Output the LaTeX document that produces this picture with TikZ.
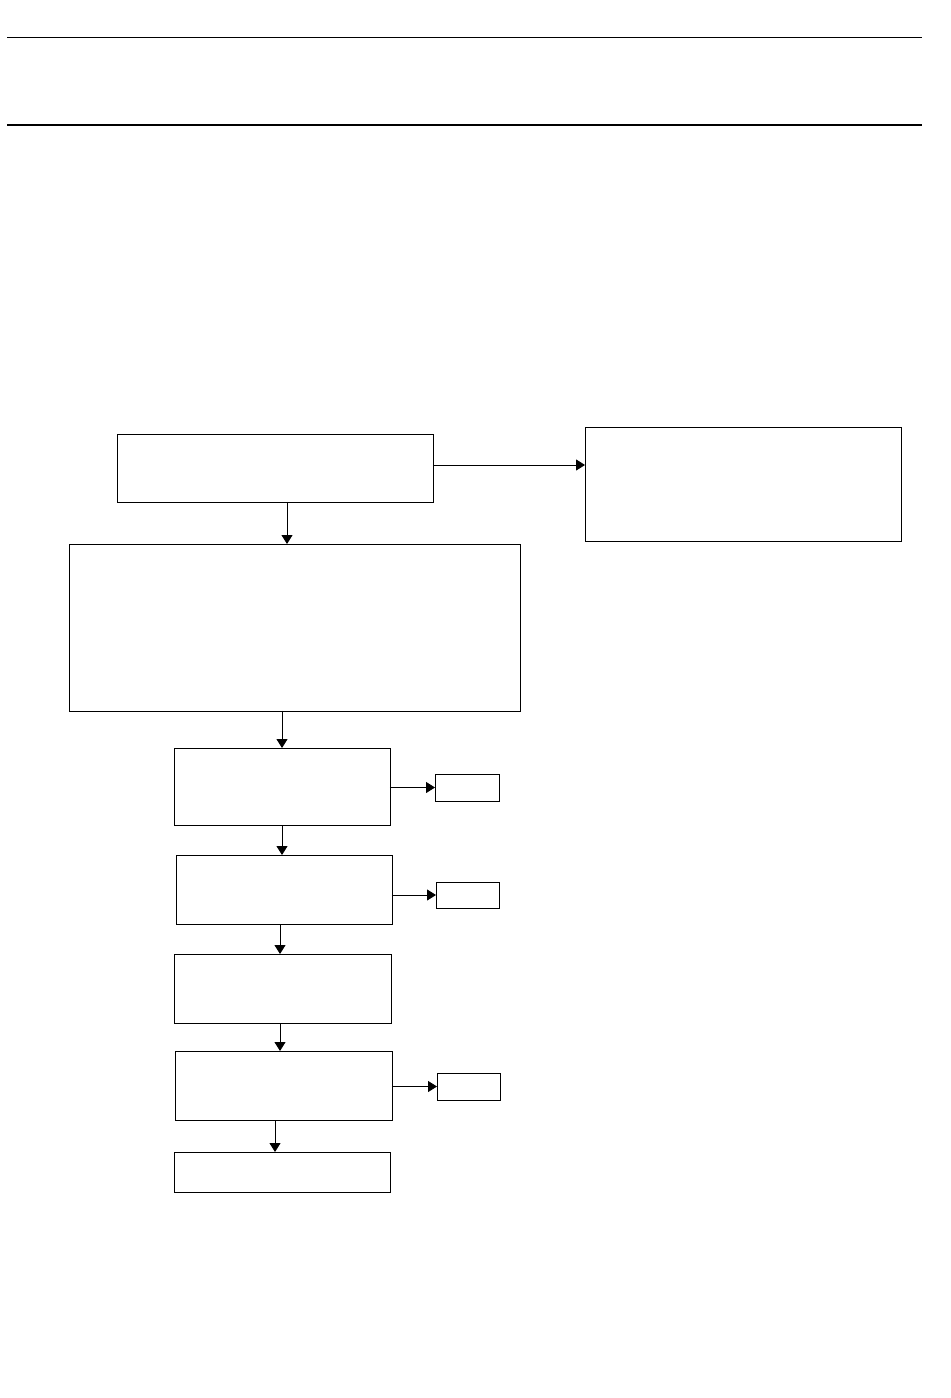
\documentclass[tikz,border=0pt]{standalone}
\usepackage{xcolor}
\usepackage{tikz}
\usetikzlibrary{arrows.meta}

\begin{document}
\begin{tikzpicture}[x=0.02cm, y=-0.02cm, line width=0.5pt,
    box/.style={draw, rectangle, inner sep=0pt, outer sep=0pt},
    arr/.style={-{Triangle[length=0.18cm, width=0.22cm]}}]
    \useasboundingbox (0,0) rectangle (950,1398);
    % righe di intestazione
    \coordinate (r1a) at (7,37);
    \coordinate (r1b) at (922,37);
    \coordinate (r2a) at (7,125);
    \coordinate (r2b) at (922,125);
    \draw (r1a) -- (r1b);
    \draw[line width=0.9pt] (r2a) -- (r2b);

    % blocco iniziale
    \node (top) at (275,468) [box, minimum width=6.32cm, minimum height=1.36cm] {};
    % blocco a destra
    \node (side) at (743,484) [box, minimum width=6.32cm, minimum height=2.28cm] {};
    % blocco grande
    \node (big) at (294.5,627.5) [box, minimum width=9.02cm, minimum height=3.34cm] {};
    % passi in colonna
    \node (s1) at (282,786.5) [box, minimum width=4.32cm, minimum height=1.54cm] {};
    \node (s2) at (284,889.5) [box, minimum width=4.32cm, minimum height=1.38cm] {};
    \node (s3) at (282.5,988.5) [box, minimum width=4.34cm, minimum height=1.38cm] {};
    \node (s4) at (283.5,1085.5) [box, minimum width=4.34cm, minimum height=1.38cm] {};
    \node (s5) at (282,1172) [box, minimum width=4.32cm, minimum height=0.80cm] {};
    % uscite laterali
    \node (o1) at (467,787.5) [box, minimum width=1.28cm, minimum height=0.54cm] {};
    \node (o2) at (467.5,895) [box, minimum width=1.26cm, minimum height=0.52cm] {};
    \node (o3) at (468.5,1086.5) [box, minimum width=1.26cm, minimum height=0.54cm] {};

    % connessioni
    \draw[arr] ([yshift=0.06cm]top.east) -- ([yshift=0.06cm]top.east -| side.west);
    \draw[arr] ([xshift=0.24cm]top.south) -- ([xshift=0.24cm]top.south |- big.north);
    \draw[arr] ([xshift=-0.25cm]big.south) -- ([xshift=-0.25cm]big.south |- s1.north);
    \draw[arr] (s1.east |- o1.west) -- (o1.west);
    \draw[arr] (s1.south) -- (s1.south |- s2.north);
    \draw[arr] (s2.east |- o2.west) -- (o2.west);
    \draw[arr] ([xshift=-0.08cm]s2.south) -- ([xshift=-0.08cm]s2.south |- s3.north);
    \draw[arr] ([xshift=-0.05cm]s3.south) -- ([xshift=-0.05cm]s3.south |- s4.north);
    \draw[arr] (s4.east |- o3.west) -- (o3.west);
    \draw[arr] ([xshift=-0.17cm]s4.south) -- ([xshift=-0.17cm]s4.south |- s5.north);
\end{tikzpicture}
\end{document}
